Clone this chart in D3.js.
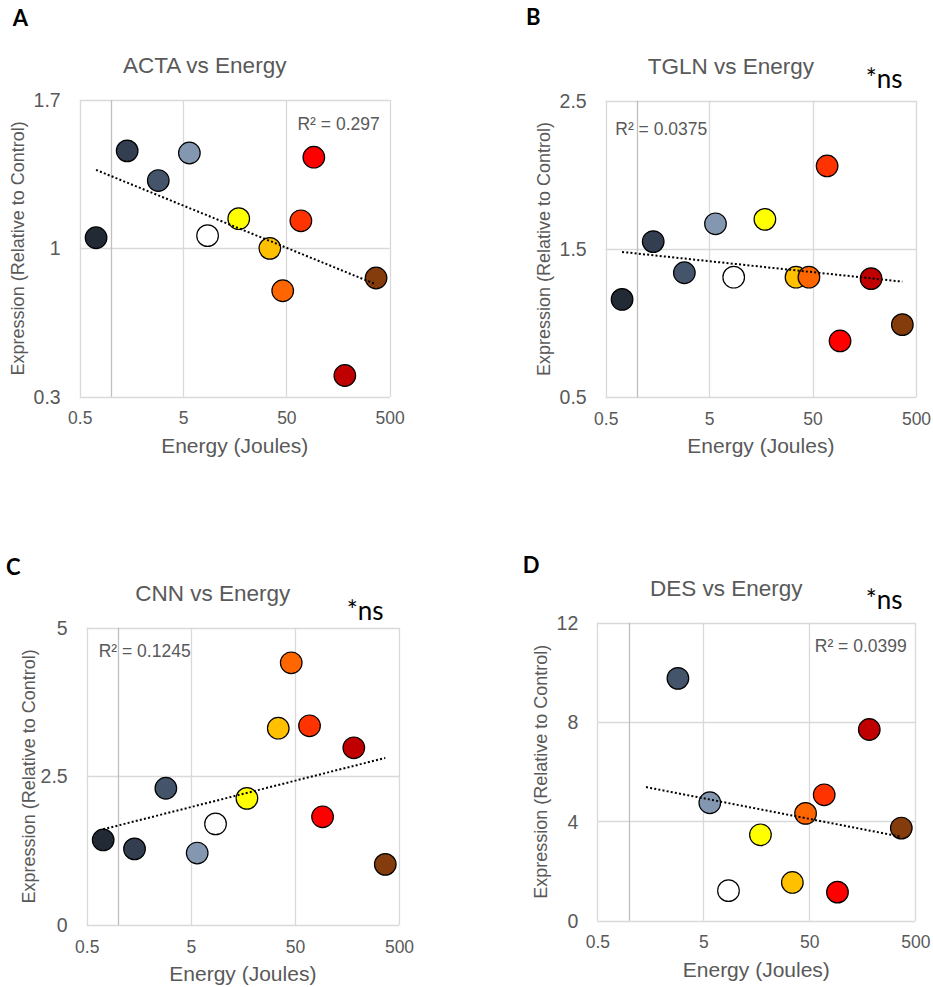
<!DOCTYPE html>
<html>
<head>
<meta charset="utf-8">
<script src="https://cdn.jsdelivr.net/npm/d3@7/dist/d3.min.js"></script>
<style>
  html, body { margin: 0; padding: 0; background: #ffffff; }
  svg { display: block; }
</style>
</head>
<body>
<svg id="fig" width="933" height="987"></svg>
<script>
// Laser energy doses (J) shared by every panel, one colour per dose
const energies = [0.72, 1.44, 2.88, 5.76, 8.64, 17.3, 34.6, 46.1, 69.1, 92.2, 184, 369];
const doseColors = ["#222a35", "#333f50", "#44546a", "#8497b0", "#ffffff", "#ffff00",
                    "#ffc000", "#ff6600", "#ff3300", "#ff0000", "#c00000", "#843c0c"];

// Expression relative to control (null = no measurement)
const actaValues = [1.05, 1.46, 1.32, 1.45, 1.06, 1.14, 1.00, 0.80, 1.13, 1.43, 0.40, 0.86];
const tglnValues = [1.16, 1.55, 1.34, 1.67, 1.31, 1.70, 1.31, 1.31, 2.06, 0.88, 1.30, 0.99];
const cnnValues  = [1.43, 1.28, 2.30, 1.21, 1.70, 2.13, 3.31, 4.41, 3.35, 1.82, 2.98, 1.02];
const desValues  = [null, null, 9.76, 4.75, 1.21, 3.46, 1.54, 4.32, 5.07, 1.15, 7.70, 3.73];

// Logarithmic trendlines: [energy, fitted expression] at each end
const actaTrend = [[0.72, 1.37], [369, 0.83]];
const tglnTrend = [[0.72, 1.48], [369, 1.28]];
const cnnTrend  = [[0.72, 1.61], [369, 2.81]];
const desTrend  = [[1.44, 5.38], [369, 3.38]];

const panelLetters = ["A", "B", "C", "D"];
const panelTitles = ["ACTA vs Energy", "TGLN vs Energy", "CNN vs Energy", "DES vs Energy"];
const rSquaredLabels = ["R² = 0.297", "R² = 0.0375", "R² = 0.1245", "R² = 0.0399"];
const significanceLabels = [null, "*ns", "*ns", "*ns"];

const xTickValues = [0.5, 5, 50, 500];
const xTickLabels = ["0.5", "5", "50", "500"];
const yTicksActa = [0.3, 1, 1.7];
const yTicksTgln = [0.5, 1.5, 2.5];
const yTicksCnn  = [0, 2.5, 5];
const yTicksDes  = [0, 4, 8, 12];
const xAxisTitle = "Energy (Joules)";
const yAxisTitle = "Expression (Relative to Control)";

// Layout of each panel: plot box, and where its annotations sit
const layout = [
  { left: 79.7,  right: 389.7, top: 100,   bottom: 396.7, letterX: 12.7,  letterY: 26,
    rLab: { x: -10,  y: 30, anchor: "end" },   ns: null,                   yTitleOff: 55.7 },
  { left: 605.7, right: 916,   top: 100.7, bottom: 397.3, letterX: 526,   letterY: 25,
    rLab: { x: 9.6,  y: 34.3, anchor: "start" }, ns: { x: -50.3, y: -12.4 }, yTitleOff: 55.7 },
  { left: 86.7,  right: 399,   top: 627.7, bottom: 925,   letterX: 6,     letterY: 575,
    rLab: { x: 12,   y: 29, anchor: "start" },   ns: { x: -52.3, y: -7.7 },  yTitleOff: 52 },
  { left: 597.3, right: 915.3, top: 622.7, bottom: 920.7, letterX: 522.7, letterY: 573.3,
    rLab: { x: -8.6, y: 29.6, anchor: "end" },   ns: { x: -49.6, y: -13.4 }, yTitleOff: 50 }
];

const panels = [
  { values: actaValues, trend: actaTrend, yTicks: yTicksActa },
  { values: tglnValues, trend: tglnTrend, yTicks: yTicksTgln },
  { values: cnnValues,  trend: cnnTrend,  yTicks: yTicksCnn },
  { values: desValues,  trend: desTrend,  yTicks: yTicksDes }
];

const GRID = "#d9d9d9";
const AXIS = "#bfbfbf";
const TEXT = "#595959";
const SANS = "'Liberation Sans', Arial, sans-serif";
const LETTER_FONT = "Lato, 'Liberation Sans', sans-serif";

const svg = d3.select("#fig");

panels.forEach((p, i) => {
  const L = layout[i];
  const g = svg.append("g");

  const x = d3.scaleLog().domain([0.5, 500]).range([L.left, L.right]);
  const y = d3.scaleLinear().domain(d3.extent(p.yTicks)).range([L.bottom, L.top]);

  // panel letter
  g.append("text")
    .attr("x", L.letterX).attr("y", L.letterY)
    .attr("font-family", LETTER_FONT).attr("font-weight", 700)
    .attr("font-size", 22).attr("fill", "#000")
    .text(panelLetters[i]);

  // chart title, centred over the whole chart area
  g.append("text")
    .attr("x", (L.left + L.right) / 2 - 30).attr("y", L.top - 27)
    .attr("text-anchor", "middle")
    .attr("font-family", SANS).attr("font-size", 22.5).attr("fill", TEXT)
    .text(panelTitles[i]);

  // gridlines (the outer ones form the plot frame)
  g.append("g").selectAll("line").data(p.yTicks).join("line")
    .attr("x1", L.left).attr("x2", L.right)
    .attr("y1", d => Math.round(y(d)) + 0.5).attr("y2", d => Math.round(y(d)) + 0.5)
    .attr("stroke", GRID).attr("stroke-width", 1.3);
  g.append("g").selectAll("line").data(xTickValues).join("line")
    .attr("x1", d => Math.round(x(d)) + 0.5).attr("x2", d => Math.round(x(d)) + 0.5)
    .attr("y1", L.top).attr("y2", L.bottom)
    .attr("stroke", GRID).attr("stroke-width", 1.3);

  // vertical axis crosses the log axis at 1
  g.append("line")
    .attr("x1", Math.round(x(1)) + 0.5).attr("x2", Math.round(x(1)) + 0.5)
    .attr("y1", L.top).attr("y2", L.bottom)
    .attr("stroke", AXIS).attr("stroke-width", 1.3);

  // tick labels through d3 axes
  const xAxis = d3.axisBottom(x).tickValues(xTickValues)
    .tickFormat((d, k) => xTickLabels[k]).tickSize(0).tickPadding(15.2);
  const xg = g.append("g").attr("transform", `translate(0,${L.bottom})`).call(xAxis);
  const yAxis = d3.axisLeft(y).tickValues(p.yTicks)
    .tickFormat(d => String(d)).tickSize(0).tickPadding(19);
  const yg = g.append("g").attr("transform", `translate(${L.left},0)`).call(yAxis);
  [xg, yg].forEach(a => {
    a.select(".domain").remove();
    a.selectAll("text").attr("font-family", SANS).attr("fill", TEXT);
  });
  xg.selectAll("text").attr("font-size", 17.5);
  yg.selectAll("text").attr("font-size", 19.5).attr("dy", "0.34em");

  // axis titles
  g.append("text")
    .attr("x", (L.left + L.right) / 2).attr("y", L.bottom + 55.8)
    .attr("text-anchor", "middle")
    .attr("font-family", SANS).attr("font-size", 21).attr("fill", TEXT)
    .text(xAxisTitle);
  g.append("text")
    .attr("transform", `translate(${L.left - L.yTitleOff},${(L.top + L.bottom) / 2}) rotate(-90)`)
    .attr("text-anchor", "middle")
    .attr("font-family", SANS).attr("font-size", 18).attr("fill", TEXT)
    .text(yAxisTitle);

  // points, one per energy dose
  const pts = energies.map((e, k) => ({ e, v: p.values[k], c: doseColors[k] }))
    .filter(d => d.v !== null);
  g.append("g").selectAll("circle").data(pts).join("circle")
    .attr("cx", d => x(d.e)).attr("cy", d => y(d.v))
    .attr("r", 10.8)
    .attr("fill", d => d.c)
    .attr("stroke", "#000").attr("stroke-width", 1.2);

  // dotted logarithmic trendline, drawn above the points
  const line = d3.line().x(d => x(d[0])).y(d => y(d[1]));
  g.append("path")
    .attr("d", line(p.trend))
    .attr("fill", "none").attr("stroke", "#000")
    .attr("stroke-width", 2).attr("stroke-dasharray", "2,2.2");

  // R² annotation
  g.append("text")
    .attr("x", (L.rLab.anchor === "end" ? L.right : L.left) + L.rLab.x)
    .attr("y", L.top + L.rLab.y)
    .attr("text-anchor", L.rLab.anchor)
    .attr("font-family", SANS).attr("font-size", 17.5).attr("fill", TEXT)
    .text(rSquaredLabels[i]);

  // significance note
  if (significanceLabels[i]) {
    g.append("text")
      .attr("x", L.right + L.ns.x).attr("y", L.top + L.ns.y)
      .attr("font-family", LETTER_FONT).attr("font-size", 26).attr("fill", "#000")
      .text(significanceLabels[i]);
  }
});
</script>
</body>
</html>
